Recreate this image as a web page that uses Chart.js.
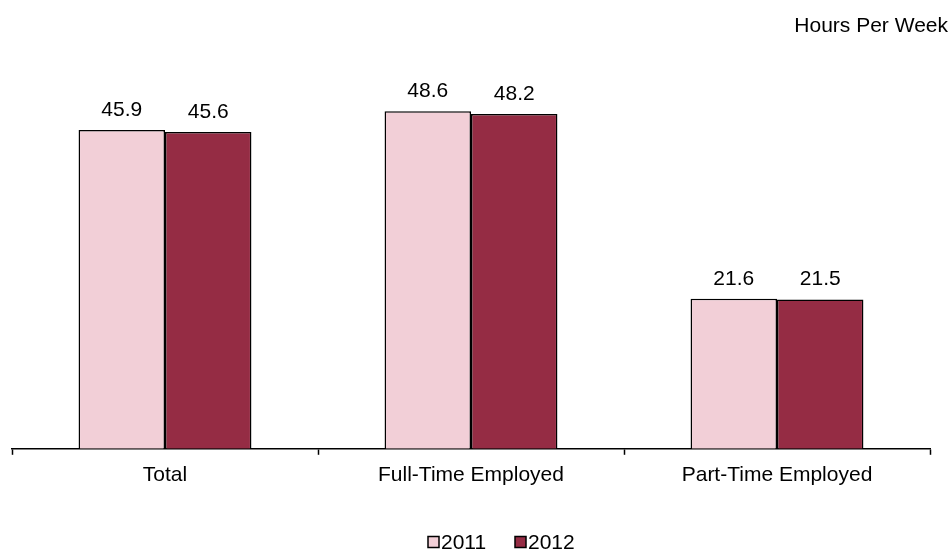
<!DOCTYPE html>
<html>
<head>
<meta charset="utf-8">
<script src="https://cdn.jsdelivr.net/npm/chart.js@4/dist/chart.umd.min.js"></script>
<style>
    html, body { margin: 0; padding: 0; background: #fff; }
    #wrap { width: 950px; height: 551px; position: relative; }
</style>
</head>
<body>
<div id="wrap"><canvas id="hoursChart"></canvas></div>
<script>
// Chart data
const categories = ['Total', 'Full-Time Employed', 'Part-Time Employed'];
const hours2011 = [45.9, 48.6, 21.6];
const hours2012 = [45.6, 48.2, 21.5];
const seriesLabels = ['2011', '2012'];
const unitLabel = 'Hours Per Week';

const FONT = '"Liberation Sans", Arial, sans-serif';

// Value labels above each bar
const valueLabels = {
    id: 'valueLabels',
    afterDatasetsDraw(chart) {
        const ctx = chart.ctx;
        ctx.save();
        ctx.font = '21px ' + FONT;
        ctx.fillStyle = '#000';
        ctx.textAlign = 'center';
        ctx.textBaseline = 'alphabetic';
        chart.data.datasets.forEach((ds, i) => {
            chart.getDatasetMeta(i).data.forEach((bar, j) => {
                ctx.fillText(ds.data[j].toFixed(1), bar.x, bar.y - 14);
            });
        });
        ctx.restore();
    }
};

// Unit note in the top right corner and legend at the bottom
const extras = {
    id: 'extras',
    afterDraw(chart) {
        const ctx = chart.ctx;
        ctx.save();
        ctx.font = '21px ' + FONT;
        ctx.fillStyle = '#000';
        ctx.textBaseline = 'middle';
        ctx.textAlign = 'right';
        ctx.fillText(unitLabel, 948, 26);

        ctx.textAlign = 'left';
        let x = 428;
        const y = 542;
        chart.data.datasets.forEach(ds => {
            ctx.fillStyle = ds.backgroundColor;
            ctx.fillRect(x, y - 5.5, 11, 11);
            ctx.lineWidth = 1.5;
            ctx.strokeStyle = '#000';
            ctx.strokeRect(x, y - 5.5, 11, 11);
            ctx.fillStyle = '#000';
            ctx.fillText(ds.label, x + 13, y + 1);
            x += 87;
        });
        ctx.restore();
    }
};

new Chart(document.getElementById('hoursChart'), {
    type: 'bar',
    data: {
        labels: categories,
        datasets: [
            {
                label: seriesLabels[0],
                data: hours2011,
                backgroundColor: '#F2CFD7',
                borderColor: '#000',
                borderWidth: 1.5,
                borderSkipped: 'bottom'
            },
            {
                label: seriesLabels[1],
                data: hours2012,
                backgroundColor: '#952C44',
                borderColor: '#000',
                borderWidth: 1.5,
                borderSkipped: 'bottom'
            }
        ]
    },
    options: {
        responsive: true,
        maintainAspectRatio: false,
        animation: false,
        categoryPercentage: 0.565,
        barPercentage: 1,
        layout: {
            padding: { top: 32, left: 12, right: 20, bottom: 55 }
        },
        plugins: {
            legend: { display: false },
            tooltip: { enabled: false }
        },
        scales: {
            x: {
                offset: true,
                grid: {
                    offset: true,
                    drawOnChartArea: false,
                    drawTicks: true,
                    tickLength: 6,
                    tickWidth: 1.5,
                    tickColor: '#000'
                },
                border: { display: true, color: '#000', width: 1.5 },
                ticks: {
                    color: '#000',
                    padding: 8,
                    maxRotation: 0,
                    font: { family: FONT, size: 21 }
                }
            },
            y: {
                display: false,
                min: 0,
                max: 60
            }
        }
    },
    plugins: [valueLabels, extras]
});
</script>
</body>
</html>
